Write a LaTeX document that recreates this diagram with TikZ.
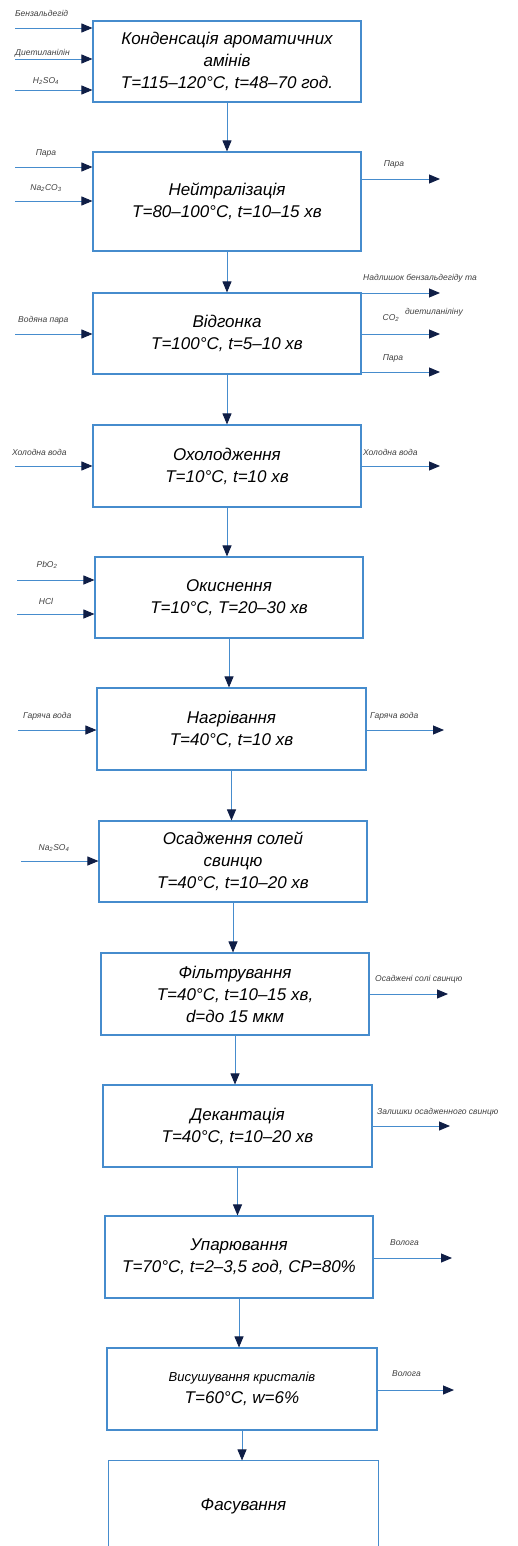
\documentclass[tikz,border=0pt]{standalone}
\usepackage{fontspec}
\setmainfont{Liberation Sans}
\usetikzlibrary{arrows.meta,calc}
\definecolor{linec}{RGB}{70,140,205}
\definecolor{arrowc}{RGB}{15,30,70}
\begin{document}
\begin{tikzpicture}[x=1pt,y=-1pt,
  proc/.style={draw=linec, line width=1.1pt, align=center, font=\fontsize{17}{22}\selectfont\itshape, inner sep=0pt, minimum width=268pt, minimum height=81pt},
  flow/.style={draw=linec, line width=0.9pt, -{Triangle[length=11pt,width=9pt,color=arrowc]}},
  lbl/.style={font=\fontsize{8.5}{10}\selectfont\itshape, inner sep=0pt, text=black!75}]
\clip (0,0) rectangle (518,1546);
\fill[white] (0,0) rectangle (518,1546);

% process boxes
\node[proc] (b1) at (227,61.5) {Конденсація ароматичних\\амінів\\T=115–120°C, t=48–70 год.};
\node[proc, minimum height=99pt] (b2) at (227,201.5) {Нейтралізація\\T=80–100°C, t=10–15 хв};
\node[proc] (b3) at (227,333.5) {Відгонка\\T=100°C, t=5–10 хв};
\node[proc, minimum height=82pt] (b4) at (227,466) {Охолодження\\T=10°C, t=10 хв};
\node[proc] (b5) at (229,597.5) {Окиснення\\T=10°C, T=20–30 хв};
\node[proc, minimum height=82pt, minimum width=269pt] (b6) at (231.5,729) {Нагрівання\\T=40°C, t=10 хв};
\node[proc] (b7) at (233,861.5) {Осадження солей\\свинцю\\T=40°C, t=10–20 хв};
\node[proc, minimum height=82pt] (b8) at (235,994) {Фільтрування\\T=40°C, t=10–15 хв,\\d=до 15 мкм};
\node[proc, minimum height=82pt, minimum width=269pt] (b9) at (237.5,1126) {Декантація\\T=40°C, t=10–20 хв};
\node[proc, minimum height=82pt] (b10) at (239,1257) {Упарювання\\T=70°C, t=2–3,5 год, CP=80\%};
\node[proc, minimum height=82pt, minimum width=270pt] (b11) at (242,1389) {{\fontsize{13}{18}\selectfont Висушування кристалів}\\T=60°C, w=6\%};
\node[proc, draw=none, minimum height=90pt, minimum width=269pt] (b12) at (243.5,1506) {Фасування};
\draw[draw=linec, line width=1.1pt] (b12.south west) -- (b12.north west) -- (b12.north east) -- (b12.south east);

% main vertical flow
\foreach \a/\b in {b1/b2,b2/b3,b3/b4,b4/b5,b5/b6,b6/b7,b7/b8,b8/b9,b9/b10,b10/b11,b11/b12}
  \draw[flow] (\a.south) -- (\a.south |- \b.north);

% inputs / outputs box 1
\coordinate (i1a) at (15,28);
\coordinate (i1b) at (15,59);
\coordinate (i1c) at (15,90);
\draw[flow] (i1a) -- (i1a -| b1.west);
\draw[flow] (i1b) -- (i1b -| b1.west);
\draw[flow] (i1c) -- (i1c -| b1.west);
\node[lbl, anchor=west] (l1a) at (15,13) {Бензальдегід};
\node[lbl, anchor=west] (l1b) at (15,53) {Диетиланілін};
\node[lbl] (l1c) at (46,81) {H\textsubscript{2}SO\textsubscript{4}};

% box 2
\coordinate (i2a) at (15,167);
\coordinate (i2b) at (15,201);
\coordinate (o2a) at (440,179);
\draw[flow] (i2a) -- (i2a -| b2.west);
\draw[flow] (i2b) -- (i2b -| b2.west);
\draw[flow] (o2a -| b2.east) -- (o2a);
\node[lbl] (l2a) at (46,153) {Пара};
\node[lbl] (l2b) at (46,188) {Na\textsubscript{2}CO\textsubscript{3}};
\node[lbl] (l2c) at (394,164) {Пара};

% box 3
\coordinate (i3a) at (15,334);
\coordinate (o3a) at (440,293);
\coordinate (o3b) at (440,334);
\coordinate (o3c) at (440,372);
\draw[flow] (i3a) -- (i3a -| b3.west);
\draw[flow] (o3a -| b3.east) -- (o3a);
\draw[flow] (o3b -| b3.east) -- (o3b);
\draw[flow] (o3c -| b3.east) -- (o3c);
\node[lbl, anchor=west] (l3a) at (18,320) {Водяна пара};
\node[lbl, anchor=west] (l3b) at (363,278) {Надлишок бензальдегіду та};
\node[lbl, anchor=west] (l3c) at (405,312) {диетиланіліну};
\node[lbl] (l3d) at (391,318) {CO\textsubscript{2}};
\node[lbl] (l3e) at (393,358) {Пара};

% box 4
\coordinate (i4a) at (15,466);
\coordinate (o4a) at (440,466);
\draw[flow] (i4a) -- (i4a -| b4.west);
\draw[flow] (o4a -| b4.east) -- (o4a);
\node[lbl, anchor=west] (l4a) at (12,452) {Холодна вода};
\node[lbl, anchor=west] (l4b) at (363,452) {Холодна вода};

% box 5
\coordinate (i5a) at (17,580);
\coordinate (i5b) at (17,614);
\draw[flow] (i5a) -- (i5a -| b5.west);
\draw[flow] (i5b) -- (i5b -| b5.west);
\node[lbl] (l5a) at (47,565) {PbO\textsubscript{2}};
\node[lbl] (l5b) at (46,601) {HCl};

% box 6
\coordinate (i6a) at (18,730);
\coordinate (o6a) at (444,730);
\draw[flow] (i6a) -- (i6a -| b6.west);
\draw[flow] (o6a -| b6.east) -- (o6a);
\node[lbl, anchor=west] (l6a) at (23,716) {Гаряча вода};
\node[lbl, anchor=west] (l6b) at (370,716) {Гаряча вода};

% box 7
\coordinate (i7a) at (21,861);
\draw[flow] (i7a) -- (i7a -| b7.west);
\node[lbl] (l7a) at (54,848) {Na\textsubscript{2}SO\textsubscript{4}};

% box 8
\coordinate (o8a) at (448,994);
\draw[flow] (o8a -| b8.east) -- (o8a);
\node[lbl, anchor=west] (l8a) at (375,979) {Осаджені солі свинцю};

% box 9
\coordinate (o9a) at (450,1126);
\draw[flow] (o9a -| b9.east) -- (o9a);
\node[lbl, anchor=west] (l9a) at (377,1112) {Залишки осадженного свинцю};

% box 10
\coordinate (o10a) at (452,1258);
\draw[flow] (o10a -| b10.east) -- (o10a);
\node[lbl, anchor=west] (l10a) at (390,1243) {Волога};

% box 11
\coordinate (o11a) at (454,1390);
\draw[flow] (o11a -| b11.east) -- (o11a);
\node[lbl, anchor=west] (l11a) at (392,1374) {Волога};
\end{tikzpicture}
\end{document}
